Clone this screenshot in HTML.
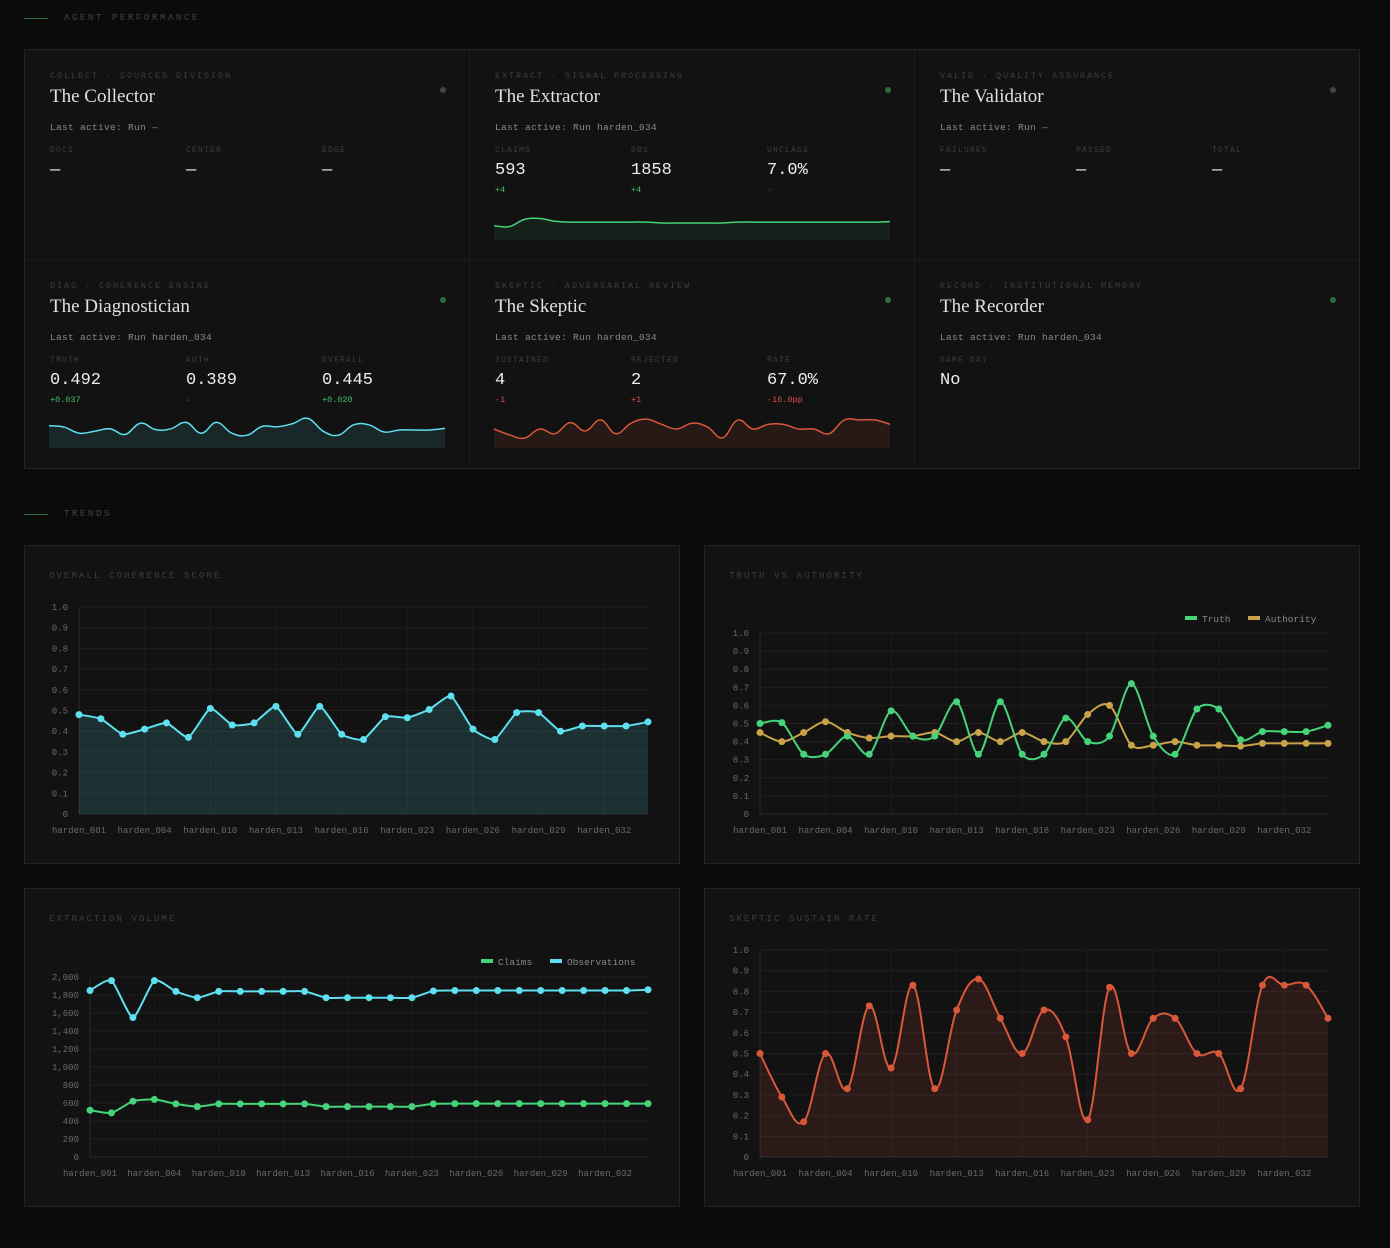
<!DOCTYPE html>
<html><head><meta charset="utf-8"><style>
body{margin:0;width:1390px;height:1248px;background:#0b0b0b;position:relative;overflow:hidden;font-family:"Liberation Mono",monospace;color:#ddd}
.abs{position:absolute}
.sec{font-size:9px;letter-spacing:2.6px;color:#444}
.panel{position:absolute;background:#121212;border:1px solid #242424;box-sizing:border-box}
.cell{position:absolute;width:445px;height:210px;border-right:1px solid #1c1c1c;border-bottom:1px solid #1c1c1c;box-sizing:border-box}
.cat{position:absolute;left:25px;top:21px;font-size:8.5px;letter-spacing:1.9px;color:#3e3e3e}
.ttl{position:absolute;left:25px;top:36px;font-family:"Liberation Serif",serif;font-size:19px;color:#e0e0e0}
.last{position:absolute;left:25px;top:72px;font-size:9.5px;color:#8a8a8a;letter-spacing:.3px}
.dot{position:absolute;left:415px;top:37px;width:6px;height:6px;border-radius:50%;background:#444}
.dot.g{background:#2f6b40}
.m{position:absolute;top:96px;width:136px}
.ml{font-size:8px;letter-spacing:1.2px;color:#3e3e3e}
.mv{font-size:17px;color:#eee;margin-top:6px}
.md{font-size:8.5px;margin-top:5px}
.ct{position:absolute;font-size:9px;letter-spacing:2.1px;color:#3e3e3e}
svg text{font-family:"Liberation Mono",monospace}
</style></head><body>
<div class="abs" style="left:24px;top:18px;width:24px;height:1px;background:#2f6b40"></div>
<div class="abs sec" style="left:64px;top:13px">AGENT PERFORMANCE</div>

<div class="panel" style="left:24px;top:49px;width:1336px;height:420px">
 <div class="cell" style="left:0;top:0">
  <div class="cat">COLLECT · SOURCES DIVISION</div><div class="ttl">The Collector</div><div class="dot"></div>
  <div class="last">Last active: Run —</div>
  <div class="m" style="left:25px"><div class="ml">DOCS</div><div class="mv">—</div></div>
  <div class="m" style="left:161px"><div class="ml">CENTER</div><div class="mv">—</div></div>
  <div class="m" style="left:297px"><div class="ml">EDGE</div><div class="mv">—</div></div>
 </div>
 <div class="cell" style="left:445px;top:0">
  <div class="cat">EXTRACT · SIGNAL PROCESSING</div><div class="ttl">The Extractor</div><div class="dot g"></div>
  <div class="last">Last active: Run harden_034</div>
  <div class="m" style="left:25px"><div class="ml">CLAIMS</div><div class="mv">593</div><div class="md" style="color:#3fc26a">+4</div></div>
  <div class="m" style="left:161px"><div class="ml">OBS</div><div class="mv">1858</div><div class="md" style="color:#3fc26a">+4</div></div>
  <div class="m" style="left:297px"><div class="ml">UNCLASS</div><div class="mv">7.0%</div><div class="md" style="color:#333">=</div></div>
 </div>
 <div class="cell" style="left:890px;top:0;border-right:none">
  <div class="cat">VALID · QUALITY ASSURANCE</div><div class="ttl">The Validator</div><div class="dot"></div>
  <div class="last">Last active: Run —</div>
  <div class="m" style="left:25px"><div class="ml">FAILURES</div><div class="mv">—</div></div>
  <div class="m" style="left:161px"><div class="ml">PASSED</div><div class="mv">—</div></div>
  <div class="m" style="left:297px"><div class="ml">TOTAL</div><div class="mv">—</div></div>
 </div>
 <div class="cell" style="left:0;top:210px;border-bottom:none">
  <div class="cat">DIAG · COHERENCE ENGINE</div><div class="ttl">The Diagnostician</div><div class="dot g"></div>
  <div class="last">Last active: Run harden_034</div>
  <div class="m" style="left:25px"><div class="ml">TRUTH</div><div class="mv">0.492</div><div class="md" style="color:#3fc26a">+0.037</div></div>
  <div class="m" style="left:161px"><div class="ml">AUTH</div><div class="mv">0.389</div><div class="md" style="color:#333">=</div></div>
  <div class="m" style="left:297px"><div class="ml">OVERALL</div><div class="mv">0.445</div><div class="md" style="color:#3fc26a">+0.020</div></div>
 </div>
 <div class="cell" style="left:445px;top:210px;border-bottom:none">
  <div class="cat">SKEPTIC · ADVERSARIAL REVIEW</div><div class="ttl">The Skeptic</div><div class="dot g"></div>
  <div class="last">Last active: Run harden_034</div>
  <div class="m" style="left:25px"><div class="ml">SUSTAINED</div><div class="mv">4</div><div class="md" style="color:#d9534a">-1</div></div>
  <div class="m" style="left:161px"><div class="ml">REJECTED</div><div class="mv">2</div><div class="md" style="color:#d9534a">+1</div></div>
  <div class="m" style="left:297px"><div class="ml">RATE</div><div class="mv">67.0%</div><div class="md" style="color:#d9534a">-16.0pp</div></div>
 </div>
 <div class="cell" style="left:890px;top:210px;border:none">
  <div class="cat">RECORD · INSTITUTIONAL MEMORY</div><div class="ttl">The Recorder</div><div class="dot g"></div>
  <div class="last">Last active: Run harden_034</div>
  <div class="m" style="left:25px"><div class="ml">SAME DAY</div><div class="mv">No</div></div>
 </div>
</div>

<div class="abs" style="left:24px;top:514px;width:24px;height:1px;background:#2f6b40"></div>
<div class="abs sec" style="left:64px;top:509px">TRENDS</div>

<div class="panel" style="left:24px;top:545px;width:656px;height:319px"></div>
<div class="panel" style="left:704px;top:545px;width:656px;height:319px"></div>
<div class="panel" style="left:24px;top:888px;width:656px;height:319px"></div>
<div class="panel" style="left:704px;top:888px;width:656px;height:319px"></div>
<div class="ct" style="left:49px;top:571px">OVERALL COHERENCE SCORE</div>
<div class="ct" style="left:729px;top:571px">TRUTH VS AUTHORITY</div>
<div class="ct" style="left:49px;top:914px">EXTRACTION VOLUME</div>
<div class="ct" style="left:729px;top:914px">SKEPTIC SUSTAIN RATE</div>

<svg id="sv" class="abs" style="left:0;top:0" width="1390" height="1248"></svg>

<script>
const categories=["harden_001","harden_002","harden_003","harden_004","harden_005","harden_008","harden_010","harden_011","harden_012","harden_013","harden_014","harden_015","harden_016","harden_017","harden_022","harden_023","harden_024","harden_025","harden_026","harden_027","harden_028","harden_029","harden_030","harden_031","harden_032","harden_033","harden_034"];
const overall=[0.48,0.46,0.385,0.41,0.44,0.37,0.51,0.43,0.44,0.52,0.385,0.52,0.385,0.36,0.47,0.465,0.505,0.57,0.41,0.36,0.49,0.49,0.40,0.425,0.425,0.425,0.445];
const truth=[0.50,0.505,0.33,0.33,0.43,0.33,0.57,0.43,0.43,0.62,0.33,0.62,0.33,0.33,0.53,0.40,0.43,0.72,0.43,0.33,0.58,0.58,0.41,0.455,0.455,0.455,0.49];
const authority=[0.45,0.40,0.45,0.51,0.45,0.42,0.43,0.43,0.45,0.40,0.45,0.40,0.45,0.40,0.40,0.55,0.60,0.38,0.38,0.40,0.38,0.38,0.375,0.39,0.39,0.39,0.39];
const observations=[1850,1960,1550,1960,1840,1770,1840,1840,1840,1840,1840,1770,1770,1770,1770,1770,1845,1850,1850,1850,1850,1850,1850,1850,1850,1850,1858];
const claims=[520,490,620,640,590,560,590,590,590,590,590,560,560,560,560,560,590,593,593,593,593,593,593,593,593,593,593];
const sustain=[0.50,0.29,0.17,0.50,0.33,0.73,0.43,0.83,0.33,0.71,0.86,0.67,0.50,0.71,0.58,0.18,0.82,0.50,0.67,0.67,0.50,0.50,0.33,0.83,0.83,0.83,0.67];
const unitTicks=[0,0.1,0.2,0.3,0.4,0.5,0.6,0.7,0.8,0.9,1.0];
const unitTickLabels=["0","0.1","0.2","0.3","0.4","0.5","0.6","0.7","0.8","0.9","1.0"];
const volTicks=[0,200,400,600,800,1000,1200,1400,1600,1800,2000];
const volTickLabels=["0","200","400","600","800","1,000","1,200","1,400","1,600","1,800","2,000"];
const sparkExtract=[0.35,0.3,0.7,0.75,0.6,0.55,0.55,0.55,0.55,0.55,0.55,0.5,0.5,0.5,0.5,0.5,0.55,0.55,0.55,0.55,0.55,0.55,0.55,0.55,0.55,0.55,0.58];
const sparkDiag=overall;
const sparkSkeptic=sustain;

const NS="http://www.w3.org/2000/svg",sv=document.getElementById('sv');
function el(t,a,p){const e=document.createElementNS(NS,t);for(const k in a)e.setAttribute(k,a[k]);(p||sv).appendChild(e);return e;}
function smooth(pts,t){let d=`M${pts[0][0]},${pts[0][1]}`;for(let i=0;i<pts.length-1;i++){const p0=pts[i-1]||pts[i],p1=pts[i],p2=pts[i+1],p3=pts[i+2]||p2;
d+=` C${p1[0]+(p2[0]-p0[0])*t},${p1[1]+(p2[1]-p0[1])*t} ${p2[0]-(p3[0]-p1[0])*t},${p2[1]-(p3[1]-p1[1])*t} ${p2[0]},${p2[1]}`;}return d;}

function chart(c){
 const n=categories.length,xs=i=>c.x0+i*(c.x1-c.x0)/(n-1),ys=v=>c.yb-(v-c.min)/(c.max-c.min)*(c.yb-c.yt);
 c.ticks.forEach((tv,i)=>{const l=el('line',{x1:c.x0,x2:c.x1,y1:ys(tv),y2:ys(tv),stroke:'#1f1f1f'});
  
  const t=el('text',{x:c.x0-11,y:ys(tv)+3,'text-anchor':'end','font-size':9,fill:'#6a6a6a'});t.textContent=c.tickLabels[i];
  });
 categories.forEach((cat,i)=>{if(i%3)return;
  el('line',{x1:xs(i),x2:xs(i),y1:c.yt,y2:c.yb,stroke:'#1c1c1c'});
  const t=el('text',{x:xs(i),y:c.yb+19,'text-anchor':'middle','font-size':9,fill:'#6a6a6a'});t.textContent=cat;
  });
 el('line',{x1:c.x0,x2:c.x0,y1:c.yt,y2:c.yb,stroke:'#2a2a2a'});
 el('line',{x1:c.x0,x2:c.x1,y1:c.yb,y2:c.yb,stroke:'#2a2a2a'});
 c.series.forEach(s=>{const pts=s.data.map((v,i)=>[xs(i),ys(v)]);const d=smooth(pts,c.tension);
  if(s.fill){const a=el('path',{d:d+` L${c.x1},${c.yb} L${c.x0},${c.yb} Z`,fill:s.fill});}
  const p=el('path',{d,fill:'none',stroke:s.color,'stroke-width':2});
  pts.forEach(q=>{const ci=el('circle',{cx:q[0],cy:q[1],r:3.5,fill:s.color});});});
 (c.legend||[]).forEach(g=>{el('rect',{x:g.x,y:g.y-3,width:12,height:4,fill:g.color});
  const t=el('text',{x:g.x+17,y:g.y+3,'font-size':9.5,fill:'#888'});t.textContent=g.label;
  });
}
chart({x0:79,x1:648,yt:607,yb:814,min:0,max:1,ticks:unitTicks,tickLabels:unitTickLabels,tension:0.08,
 series:[{name:'overall',data:overall,color:'#5ee0f0',fill:'rgba(94,224,240,0.14)'}]});
chart({x0:760,x1:1328,yt:633,yb:814,min:0,max:1,ticks:unitTicks,tickLabels:unitTickLabels,tension:0.15,
 series:[{name:'authority',data:authority,color:'#c9a24a'},{name:'truth',data:truth,color:'#46d47a'}],
 legend:[{x:1185,y:619,color:'#46d47a',label:'Truth'},{x:1248,y:619,color:'#c9a24a',label:'Authority'}]});
chart({x0:90,x1:648,yt:977,yb:1157,min:0,max:2000,ticks:volTicks,tickLabels:volTickLabels,tension:0.1,
 series:[{name:'observations',data:observations,color:'#5ee0f0'},{name:'claims',data:claims,color:'#46d47a'}],
 legend:[{x:481,y:962,color:'#46d47a',label:'Claims'},{x:550,y:962,color:'#5ee0f0',label:'Observations'}]});
chart({x0:760,x1:1328,yt:950,yb:1157,min:0,max:1,ticks:unitTicks,tickLabels:unitTickLabels,tension:0.18,
 series:[{name:'sustain',data:sustain,color:'#d9583a',fill:'rgba(217,88,58,0.13)'}]});

function spark(data,x0,x1,yt,yb,min,max,color,fill,name){
 const n=data.length,pts=data.map((v,i)=>[x0+i*(x1-x0)/(n-1),yb-(v-min)/(max-min)*(yb-yt)]);const d=smooth(pts,0.2);
 el('path',{d:d+` L${x1},${yb+8} L${x0},${yb+8} Z`,fill});
 const p=el('path',{d,fill:'none',stroke:color,'stroke-width':1.5});
 
}
spark(sparkExtract,494,890,214,232,0,1,'#46d47a','rgba(70,212,122,0.08)','extractor-sparkline');
spark(sparkDiag,49,445,416,440,0.3,0.6,'#5ee0f0','rgba(94,224,240,0.1)','diagnostician-sparkline');
spark(sparkSkeptic,494,890,418,440,0.1,0.9,'#d9583a','rgba(217,88,58,0.1)','skeptic-sparkline');
</script>
</body></html>
